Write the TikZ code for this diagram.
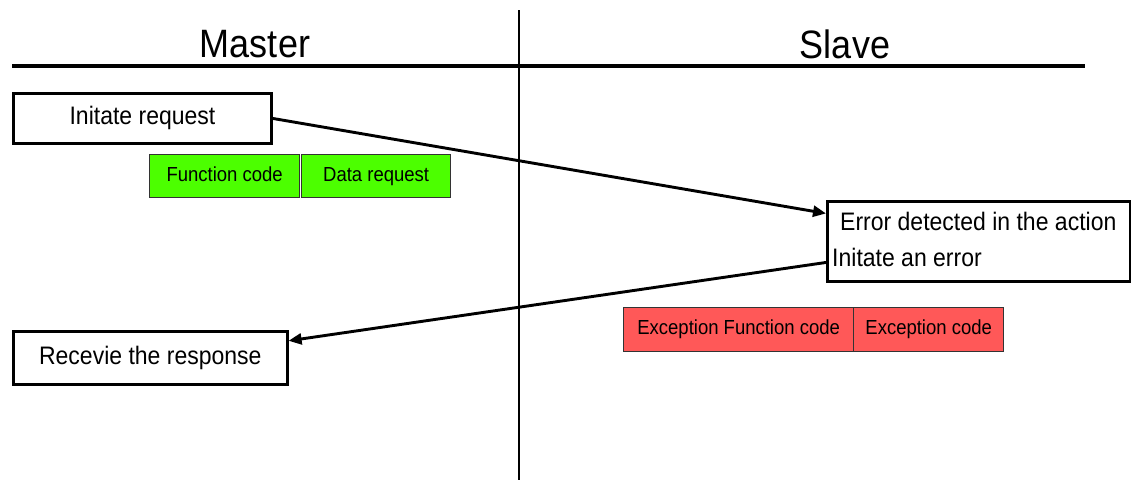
\documentclass[tikz,border=0pt]{standalone}
\usepackage{fontspec}
\setmainfont{Liberation Sans}
\usetikzlibrary{arrows.meta,calc}
\newcommand\vst[1]{\scalebox{1}[1.1]{#1}}
\definecolor{fgreen}{RGB}{76,255,0}
\definecolor{fred}{RGB}{255,88,88}
\begin{document}
\begin{tikzpicture}[x=1pt,y=-1pt,
  title/.style={inner sep=0pt,font=\fontsize{36}{40}\selectfont},
  box/.style={draw=black,line width=2.9pt,fill=white,inner sep=0pt,anchor=north west,text height=18pt,text depth=5pt,font=\fontsize{23}{27}\selectfont},
  txt/.style={inner sep=0pt,anchor=west,text height=18pt,text depth=5pt,font=\fontsize{23}{27}\selectfont},
  field/.style={draw=black!80,line width=1.3pt,inner sep=0pt,anchor=north west,text height=14.5pt,text depth=4pt,font=\fontsize{18.5}{22}\selectfont},
  conn/.style={line width=2.9pt,-{Triangle[length=13pt,width=11pt]}},
  rule/.style={line width=2.7pt}]
\useasboundingbox (0,0) rectangle (1131,480);
\clip (0,0) rectangle (1131,480);
% swimlane rules
\coordinate (vtop) at (519,10);
\coordinate (vbot) at (519,480);
\coordinate (hl) at (12,66);
\coordinate (hr) at (1085,66);
\draw[rule] (vtop) -- (vbot);
\draw[rule,line width=3.2pt] (hl) -- (hr);
% titles
\node[title] (master) at (255,44) {\vst{Master}};
\node[title] (slavet) at (845,44) {\vst{Slave}};
% master boxes
\node[box,minimum width=258pt,minimum height=50pt] (init) at (12,92) {\vst{Initate request}};
\node[field,fill=fgreen,minimum width=150pt,minimum height=43pt] (fc) at (149,154) {\vst{Function code}};
\node[field,fill=fgreen,minimum width=149pt,minimum height=43pt] (dr) at (301,154) {\vst{Data request}};
\node[box,line width=2.6pt,minimum width=274pt,minimum height=53pt] (recv) at (12,330) {\vst{Recevie the response}};
% slave boxes
\node[box,minimum width=303pt,minimum height=80pt] (slave) at (826,200) {};
\node[txt] (err) at (840,224) {\vst{Error detected in the action}};
\node[txt] (ini) at (832,259.5) {\vst{Initate an error}};
\node[field,fill=fred,minimum width=230pt,minimum height=44pt] (efc) at (623,307) {\vst{Exception Function code}};
\node[field,fill=fred,minimum width=150pt,minimum height=44pt] (ec) at (853,307) {\vst{Exception code}};
% connectors
\draw[conn] (init.east) -- ([yshift=28pt]slave.west);
\draw[conn] ([yshift=-21pt]slave.west) -- ([yshift=17pt]recv.east);
\end{tikzpicture}
\end{document}
